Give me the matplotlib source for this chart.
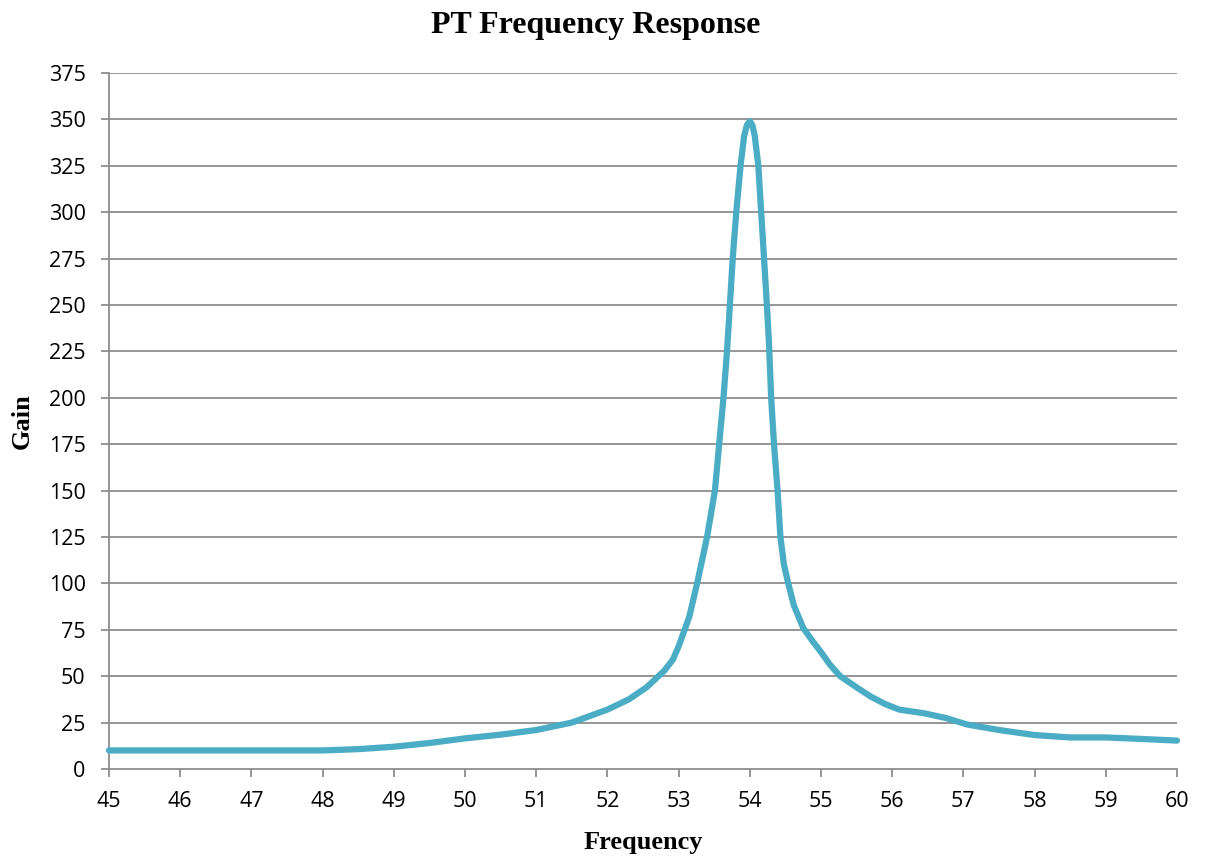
import numpy as np
import matplotlib
matplotlib.use("Agg")
from matplotlib import pyplot as plt

# values
freq = [45, 46, 47, 48, 48.5, 49, 49.5, 50, 50.5, 51, 51.5, 52, 52.3, 52.55, 52.8,
        52.92, 53.0, 53.15, 53.26, 53.40, 53.51, 53.57, 53.63, 53.68, 53.72, 53.76,
        53.81, 53.87, 53.92, 53.96, 54.0, 54.035, 54.07, 54.12, 54.16, 54.2,
        54.24, 54.27, 54.30, 54.34, 54.39, 54.43, 54.48, 54.54, 54.62, 54.75,
        54.88, 55.0, 55.13, 55.27, 55.5, 55.7, 55.9, 56.1, 56.45, 56.75, 57.05,
        57.5, 58.0, 58.5, 59.0, 59.5, 60]
gain = [10, 10, 10, 10, 10.7, 12, 14, 16.5, 18.5, 21, 25, 32, 37.5, 44, 53,
        59, 66, 82, 100, 125, 150, 175, 200, 225, 250, 275,
        300, 325, 341, 347, 349, 347, 341, 325, 300, 275,
        250, 229, 200, 175, 150, 125, 110, 100, 88, 76,
        69, 63, 56, 50, 44, 39, 35, 32, 30, 27.5, 24,
        21, 18.3, 17, 17, 16.2, 15.3]

xticks = np.arange(45, 61, 1)
yticks = np.arange(0, 376, 25)

fig = plt.figure(figsize=(12.07, 8.57), dpi=100)
ax = fig.add_axes([109/1207, 1-769/857, (1177-109)/1207, (769-73)/857])

ax.plot(freq, gain, color='#4BACC6', lw=4.5, solid_joinstyle='round',
        solid_capstyle='round', zorder=3, clip_on=False)

ax.set_xlim(45, 60)
ax.set_ylim(0, 375)
ax.set_xticks(xticks)
ax.set_yticks(yticks)
ax.set_xticklabels([str(v) for v in xticks])
ax.set_yticklabels([str(v) for v in yticks])

gc = '#8e8e8e'
for y in yticks[1:]:
    ax.axhline(y, color=gc, lw=1.3, zorder=1)
for s in ['top', 'right']:
    ax.spines[s].set_visible(False)
for s in ['left', 'bottom']:
    ax.spines[s].set_color(gc)
    ax.spines[s].set_linewidth(1.3)

ax.tick_params(axis='both', direction='out', length=5.8, width=1.3, color=gc,
               labelsize=15.5)
ax.tick_params(axis='x', pad=10)
ax.tick_params(axis='y', pad=11)
for lab in ax.get_xticklabels() + ax.get_yticklabels():
    lab.set_family('Open Sans')

fig.text(596/1207, 1-25/857, 'PT Frequency Response', ha='center', va='center',
         family='Liberation Serif', weight='bold', fontsize=23)
fig.text(643/1207, 1-843/857, 'Frequency', ha='center', va='center',
         family='Liberation Serif', weight='bold', fontsize=19)
fig.text(22/1207, 1-421/857, 'Gain', ha='center', va='center', rotation=90,
         family='Liberation Serif', weight='bold', fontsize=19)

fig.savefig('out.png', dpi=100)
